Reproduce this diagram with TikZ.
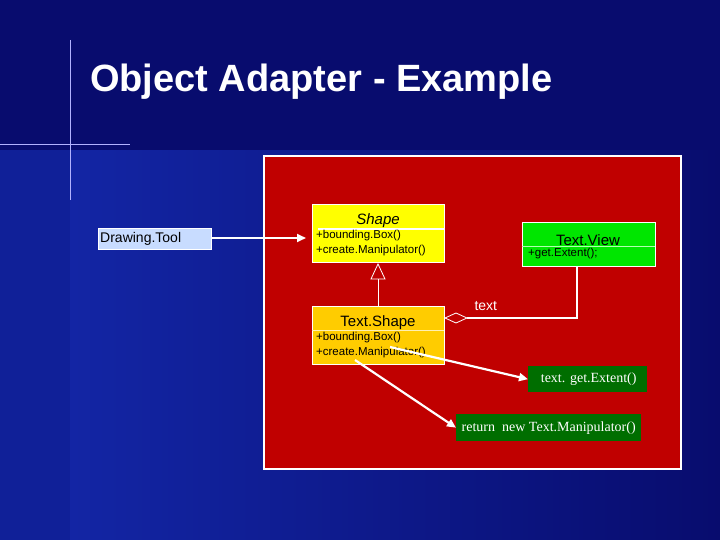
\documentclass[tikz,border=0pt]{standalone}
\usepackage{fontspec}
\setmainfont{Liberation Sans}
\newfontfamily\serifx{Liberation Serif}
\usetikzlibrary{arrows.meta,shapes.geometric}
\definecolor{navy}{RGB}{8,12,110}
\definecolor{bluel}{RGB}{20,40,170}
\definecolor{panel}{RGB}{192,0,0}
\definecolor{yel}{RGB}{255,255,0}
\definecolor{orng}{RGB}{255,204,0}
\definecolor{grn}{RGB}{0,230,0}
\definecolor{dgrn}{RGB}{0,110,0}
\definecolor{lblue}{RGB}{200,220,255}
\tikzset{
 cls/.style={draw=white,line width=0.8pt,minimum width=132pt,anchor=north west,inner sep=0pt},
 mth/.style={font=\fontsize{11.5}{15}\selectfont,anchor=north west,inner sep=1pt,align=left},
 note/.style={fill=dgrn,text=white,font=\serifx\fontsize{14}{15}\selectfont,anchor=north west,inner sep=2pt},
 wl/.style={draw=white,line width=2.2pt},
 arr/.style={wl,-{Triangle[length=9pt,width=8pt]}}
}
\begin{document}
\begin{tikzpicture}[x=1pt,y=-1pt]
\useasboundingbox (0,0) rectangle (720,540);
\shade[left color=bluel,right color=navy] (0,0) rectangle (720,540);
\fill[navy] (0,0) rectangle (720,150);
\fill[bluel!70!navy] (0,150) rectangle (70,540);
\draw[white!70!blue,line width=1pt] (70,40) -- (70,200);
\draw[white!70!blue,line width=1pt] (0,145) -- (130,145);
\node[text=white,font=\bfseries\fontsize{38}{42}\selectfont,anchor=west,inner sep=0pt] (title) at (90,82) {Object Adapter - Example};
\node[draw=white,line width=2pt,fill=panel,minimum width=417pt,minimum height=313pt,anchor=north west] (panelbox) at (263,155) {};
% Drawing tool
\node[draw=white,fill=lblue,minimum width=113pt,minimum height=21pt,anchor=north west,font=\fontsize{14}{15}\selectfont,inner sep=2pt,text width=109pt] (dt) at (98,228) {Drawing.Tool};
% Shape
\node[cls,fill=yel,minimum height=58pt] (shape) at (312,204) {};
\node[font=\itshape\fontsize{15}{16}\selectfont,anchor=south,inner sep=1pt] (shapet) at (378,229) {Shape};
\draw[white,line width=1.5pt] (318,229) coordinate (s1) -- (444,229) coordinate (s2);
\node[mth] (shapem) at (315,229) {+bounding.Box()\\+create.Manipulator()};
% TextView
\node[cls,fill=grn,minimum width=133pt,minimum height=44pt] (tv) at (522,222) {};
\draw[white!70!green] (522,246) coordinate (v1) -- (655,246) coordinate (v2);
\node[font=\fontsize{15}{16}\selectfont,anchor=south,inner sep=1pt] (tvt) at (588,247) {Text.View};
\node[mth] (tvm) at (527,247) {+get.Extent();};
% TextShape
\node[cls,fill=orng,minimum height=58pt] (ts) at (312,306) {};
\draw[white!70!orng] (312,330) coordinate (t1) -- (444,330) coordinate (t2);
\node[font=\fontsize{15}{16}\selectfont,anchor=south,inner sep=1pt] (tst) at (378,331) {Text.Shape};
\node[mth] (tsm) at (315,331) {+bounding.Box()\\+create.Manipulator()};
% notes
\node[note,minimum width=119pt,minimum height=26pt] (n1) at (528,366) {\hspace{2pt}text. get.Extent()};
\node[note,minimum width=185pt,minimum height=27pt] (n2) at (456,414) {return\ \ new Text.Manipulator()};
% connectors
\coordinate (dtE) at (211,238);
\coordinate (shW) at (306,238);
\draw[arr] (dtE) -- (shW);
\coordinate (tri) at (378,264);
\coordinate (trib) at (378,279);
\draw[white,line width=0.8pt] (tri) -- (371,279) -- (385,279) -- cycle;
\coordinate (tsN) at (378,306);
\draw[white,line width=0.8pt] (trib) -- (tsN);
\coordinate (d0) at (445,318);
\draw[white,line width=0.8pt] (d0) -- (456,313) -- (467,318) coordinate (d1) -- (456,323) -- cycle;
\coordinate (tvS) at (577,266);
\draw[wl] (d1) -- (577,318) -- (tvS);
\node[text=white,font=\fontsize{14}{15}\selectfont,anchor=west] (lab) at (471,306) {text};
\coordinate (a1) at (390,347);
\coordinate (a2) at (355,360);
\draw[arr] (a1) -- (n1.west);
\draw[arr] (a2) -- (n2.west);
\end{tikzpicture}
\end{document}
